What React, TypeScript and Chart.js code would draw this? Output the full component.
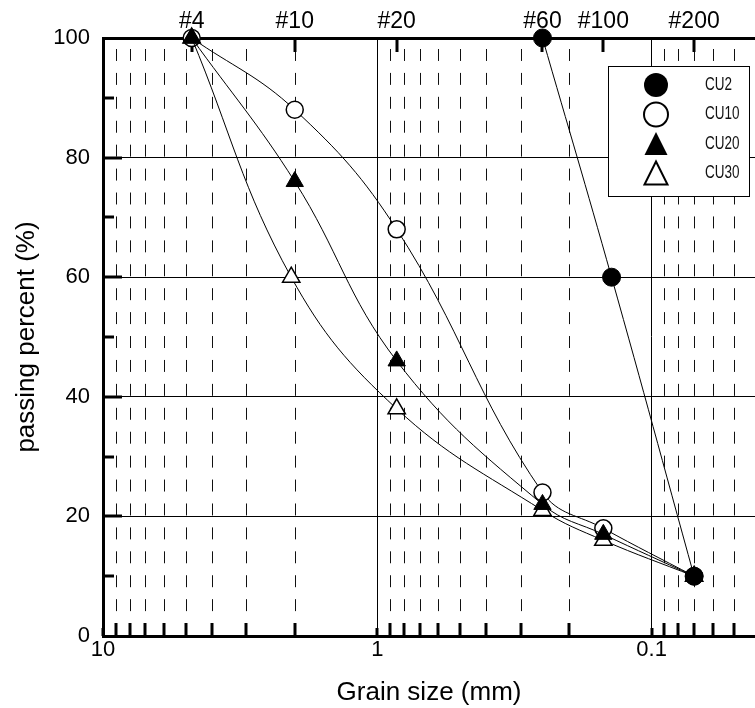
import React, { useEffect, useRef } from 'react';
import { Chart, registerables } from 'chart.js';

Chart.register(...registerables);

// ---- data ----
const sieveLabels = ['#4', '#10', '#20', '#60', '#100', '#200'];
const sieveSizes = [4.75, 2.0, 0.85, 0.25, 0.15, 0.07];
const majorSizes = [10, 1, 0.1];
const minorSizes = [9, 8, 7, 6, 5, 4, 3, 2, 0.9, 0.8, 0.7, 0.6, 0.5, 0.4, 0.3, 0.2, 0.09, 0.08, 0.07, 0.06, 0.05];
const yTicks = [0, 20, 40, 60, 80, 100];
const yMinorTicks = [10, 30, 50, 70, 90];

const seriesNames = ['CU2', 'CU10', 'CU20', 'CU30'];
const cu2X = [0.25, 0.14, 0.07];
const cu2Y = [100, 60, 10];
const cu10X = [4.75, 2.0, 0.85, 0.25, 0.15, 0.07];
const cu10Y = [100, 88, 68, 24, 18, 10];
const cu20X = [4.75, 2.0, 0.85, 0.25, 0.15, 0.07];
const cu20Y = [100, 76, 46, 22, 17, 10];
const cu30X = [4.75, 2.06, 0.85, 0.25, 0.15, 0.07];
const cu30Y = [100, 60, 38, 21, 16, 10];

const X_MIN = 0.042;
const X_MAX = 10;
const FONT = 'Arial, "Liberation Sans", Helvetica, sans-serif';

const toPts = (xs: number[], ys: number[]) => xs.map((x, i) => ({ x, y: ys[i] }));

const markerStyles = [
  { shape: 'circle', filled: true },
  { shape: 'circle', filled: false },
  { shape: 'triangle', filled: true },
  { shape: 'triangle', filled: false },
];

const decorPlugin = {
  id: 'decor',
  beforeDatasetsDraw(chart: any) {
    const { ctx, chartArea: a, scales } = chart;
    const xs = scales.x;
    const ys = scales.y;
    const xt = scales.xTop;
    ctx.save();
    // dashed minor grid lines
    const period = (ys.getPixelForValue(0) - ys.getPixelForValue(20)) / 5;
    ctx.strokeStyle = '#111';
    ctx.lineWidth = 1;
    ctx.setLineDash([period * 0.5, period * 0.5]);
    for (const v of minorSizes) {
      const x = Math.round(xs.getPixelForValue(v)) + 0.5;
      if (x < a.left || x > a.right) continue;
      ctx.beginPath();
      ctx.moveTo(x, a.top + 11);
      ctx.lineTo(x, a.bottom);
      ctx.stroke();
    }
    ctx.setLineDash([]);
    // inner tick marks
    ctx.strokeStyle = '#000';
    ctx.lineWidth = 3;
    const vline = (x: number, y0: number, y1: number) => {
      ctx.beginPath();
      ctx.moveTo(x, y0);
      ctx.lineTo(x, y1);
      ctx.stroke();
    };
    const hline = (y: number, x0: number, x1: number) => {
      ctx.beginPath();
      ctx.moveTo(x0, y);
      ctx.lineTo(x1, y);
      ctx.stroke();
    };
    for (const v of minorSizes) {
      const x = Math.round(xs.getPixelForValue(v));
      if (x < a.left || x > a.right) continue;
      vline(x, a.bottom, a.bottom - 13);
    }
    for (const v of majorSizes) {
      const x = Math.round(xs.getPixelForValue(v));
      vline(x, a.bottom, a.bottom - 8);
    }
    for (const v of yMinorTicks) {
      const y = Math.round(ys.getPixelForValue(v));
      hline(y, a.left, a.left + 11);
    }
    for (const v of yTicks) {
      if (v === 0 || v === 100) continue;
      const y = Math.round(ys.getPixelForValue(v));
      hline(y, a.left, a.left + 19);
    }
    for (const v of sieveSizes) {
      const x = Math.round(xt.getPixelForValue(v));
      vline(x, a.top, a.top + 14);
    }
    ctx.restore();
  },
  afterDatasetsDraw(chart: any) {
    const { ctx, chartArea: a } = chart;
    ctx.save();
    const lx = a.right - 147;
    const ly = a.top + 28;
    const lw = 141;
    const lh = 130;
    ctx.fillStyle = '#fff';
    ctx.fillRect(lx, ly, lw, lh);
    ctx.strokeStyle = '#000';
    ctx.lineWidth = 1;
    ctx.strokeRect(lx + 0.5, ly + 0.5, lw, lh);
    seriesNames.forEach((name, i) => {
      const cy = ly + 19 + i * 29.5;
      const mx = lx + 48;
      const st = markerStyles[i];
      ctx.beginPath();
      if (st.shape === 'circle') {
        ctx.arc(mx, cy, 12, 0, Math.PI * 2);
      } else {
        ctx.moveTo(mx, cy - 12);
        ctx.lineTo(mx + 11.5, cy + 11);
        ctx.lineTo(mx - 11.5, cy + 11);
        ctx.closePath();
      }
      if (st.filled) {
        ctx.fillStyle = '#000';
        ctx.fill();
      } else {
        ctx.fillStyle = '#fff';
        ctx.fill();
        ctx.lineWidth = 2;
        ctx.strokeStyle = '#000';
        ctx.stroke();
      }
      ctx.save();
      ctx.translate(lx + 97, cy);
      ctx.scale(0.75, 1);
      ctx.fillStyle = '#111';
      ctx.font = '18px ' + FONT;
      ctx.textBaseline = 'middle';
      ctx.textAlign = 'left';
      ctx.fillText(name, 0, 0);
      ctx.restore();
    });
    ctx.restore();
  },
};

export default function App() {
  const ref = useRef<HTMLCanvasElement>(null);
  useEffect(() => {
    const common = { borderColor: '#000', borderWidth: 1, tension: 0.4, clip: false as any, fill: false };
    const chart = new Chart(ref.current as HTMLCanvasElement, {
      type: 'line',
      data: {
        datasets: [
          {
            ...common,
            label: seriesNames[0],
            data: toPts(cu2X, cu2Y),
            pointStyle: 'circle',
            pointRadius: 9,
            pointBackgroundColor: '#000',
            pointBorderColor: '#000',
            pointBorderWidth: 1,
            order: 0,
          },
          {
            ...common,
            label: seriesNames[1],
            data: toPts(cu10X, cu10Y),
            pointStyle: 'circle',
            pointRadius: 8.5,
            pointBackgroundColor: '#fff',
            pointBorderColor: '#000',
            pointBorderWidth: 1.5,
            order: 3,
          },
          {
            ...common,
            label: seriesNames[2],
            data: toPts(cu20X, cu20Y),
            pointStyle: 'triangle',
            pointRadius: 10,
            pointBackgroundColor: '#000',
            pointBorderColor: '#000',
            pointBorderWidth: 1,
            order: 1,
          },
          {
            ...common,
            label: seriesNames[3],
            data: toPts(cu30X, cu30Y),
            pointStyle: 'triangle',
            pointRadius: 10,
            pointBackgroundColor: '#fff',
            pointBorderColor: '#000',
            pointBorderWidth: 1.5,
            order: 2,
          },
        ] as any,
      },
      options: {
        responsive: false,
        devicePixelRatio: 1,
        animation: false,
        layout: { padding: 0, autoPadding: false },
        plugins: { legend: { display: false }, tooltip: { enabled: false } },
        events: [],
        scales: {
          x: {
            type: 'logarithmic',
            position: 'bottom',
            reverse: true,
            min: X_MIN,
            max: X_MAX,
            afterBuildTicks: (s: any) => {
              s.ticks = majorSizes.map((v) => ({ value: v }));
            },
            afterFit: (s: any) => {
              s.height = 72;
            },
            ticks: {
              autoSkip: false,
              maxRotation: 0,
              padding: 1,
              color: '#000',
              font: { family: FONT, size: 22 },
              callback: (v: any) => String(v),
            },
            grid: { color: '#000', lineWidth: 1, drawTicks: false },
            border: { display: true, color: '#000', width: 3 },
            title: {
              display: true,
              text: 'Grain size (mm)',
              color: '#000',
              font: { family: FONT, size: 26 },
              padding: { top: 0, bottom: 0 },
            },
          },
          xTop: {
            type: 'logarithmic',
            position: 'top',
            reverse: true,
            min: X_MIN,
            max: X_MAX,
            afterBuildTicks: (s: any) => {
              s.ticks = sieveSizes.map((v) => ({ value: v }));
            },
            afterFit: (s: any) => {
              s.height = 38;
            },
            ticks: {
              autoSkip: false,
              maxRotation: 0,
              padding: 3,
              color: '#000',
              font: { family: FONT, size: 23 },
              callback: (_v: any, i: number) => sieveLabels[i],
            },
            grid: { display: false, drawTicks: false },
            border: { display: true, color: '#000', width: 3 },
          },
          y: {
            type: 'linear',
            position: 'left',
            min: 0,
            max: 100,
            afterBuildTicks: (s: any) => {
              s.ticks = yTicks.map((v) => ({ value: v }));
            },
            afterFit: (s: any) => {
              s.width = 103;
            },
            ticks: {
              padding: 13,
              color: '#000',
              font: { family: FONT, size: 22 },
            },
            grid: { color: '#000', lineWidth: 1, drawTicks: false },
            border: { display: true, color: '#000', width: 3 },
            title: {
              display: true,
              text: 'passing percent (%)',
              color: '#000',
              font: { family: FONT, size: 26 },
              padding: { top: 11, bottom: 0 },
            },
          },
        } as any,
      },
      plugins: [decorPlugin],
    });
    return () => chart.destroy();
  }, []);
  return (
    <div style={{ position: 'fixed', left: 0, top: 0, width: 755, height: 708, background: '#fff' }}>
      <canvas ref={ref} width={755} height={708} style={{ display: 'block', width: 755, height: 708 }} />
    </div>
  );
}
